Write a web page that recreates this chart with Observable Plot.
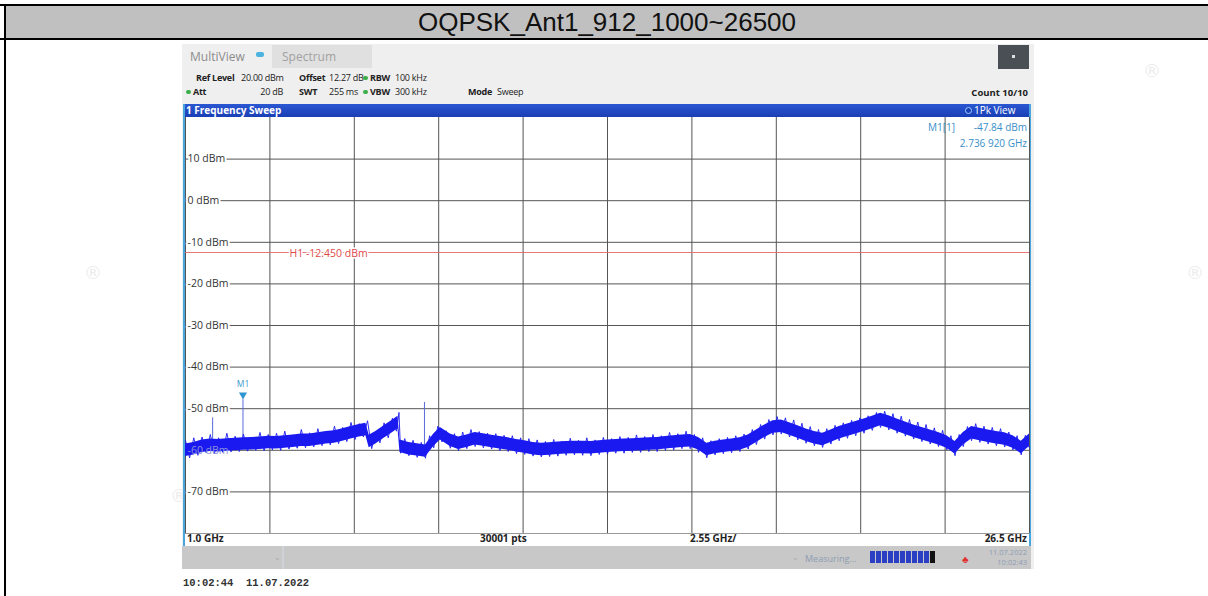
<!DOCTYPE html>
<html>
<head>
<meta charset="utf-8">
<script src="https://cdn.jsdelivr.net/npm/d3@7"></script>
<script src="https://cdn.jsdelivr.net/npm/@observablehq/plot@0.6"></script>
<style>
  html, body { margin: 0; padding: 0; background: #fff; }
  #page { position: relative; width: 1208px; height: 596px; overflow: hidden; background: #fff; font-family: "Open Sans", "Noto Sans", sans-serif; }
  .abs { position: absolute; white-space: nowrap; }
  .b { font-weight: 700; }
  .info { font-size: 9px; color: #222; line-height: 12px; letter-spacing: -0.25px; }
  .dotg { position: absolute; width: 5px; height: 4px; border-radius: 3px; background: #3cae4a; }
  .mk { color: #3a8fc9; font-size: 10px; }
  .wm { color: #ececec; font-family: "DejaVu Sans", sans-serif; font-size: 18px; }
</style>
</head>
<body>
<div id="page">
  <!-- outer table frame -->
  <div class="abs" style="left:0;top:4px;width:1208px;height:2px;background:#000"></div>
  <div class="abs" style="left:6px;top:6px;width:1202px;height:32px;background:#c0c0c0"></div>
  <div class="abs" style="left:0;top:38px;width:1208px;height:2px;background:#000"></div>
  <div class="abs" style="left:4px;top:4px;width:2px;height:592px;background:#000"></div>
  <div class="abs" id="title" style="left:6px;top:6px;width:1202px;height:32px;line-height:33px;text-align:center;font-family:'Liberation Sans',Arial,sans-serif;font-size:26px;color:#111"></div>

  <!-- faint watermarks -->
  <div class="abs wm" style="left:1143px;top:60px">®</div>
  <div class="abs wm" style="left:84px;top:262px">®</div>
  <div class="abs wm" style="left:1186px;top:262px">®</div>
  <div class="abs wm" style="left:170px;top:485px">®</div>

  <!-- instrument screenshot -->
  <div class="abs" style="left:182px;top:44px;width:852px;height:525px;background:#efefef"></div>
  <div class="abs" style="left:190px;top:48px;font-size:12px;color:#8c8c8c">MultiView</div>
  <div class="abs" style="left:256px;top:52px;width:8px;height:5px;background:#4bb3e0;border-radius:2px"></div>
  <div class="abs" style="left:272px;top:45px;width:100px;height:23px;background:#e0e0e0"></div>
  <div class="abs" style="left:282px;top:48px;font-size:12px;color:#a0a0a0">Spectrum</div>
  <div class="abs" style="left:998px;top:45px;width:31px;height:24px;background:#4a4f55"></div>
  <div class="abs" style="left:1012px;top:55px;width:3px;height:3px;background:#ddd"></div>

  <div id="settings"></div>
  <div class="abs info b" id="count" style="right:180px;top:87px;font-size:9.5px;letter-spacing:0"></div>

  <!-- window frame -->
  <div class="abs" style="left:183px;top:104px;width:848px;height:442px;background:#4aa6de"></div>
  <div class="abs" style="left:185px;top:104px;width:844px;height:13px;background:linear-gradient(#2a57d2,#1a3fb5)"></div>
  <div class="abs b" style="left:186px;top:103px;font-size:10px;color:#fff;line-height:14px">1 Frequency Sweep</div>
  <div class="abs" style="left:965px;top:107px;width:5px;height:5px;border:1.5px solid #9fd0ff;background:#1a3fb5;border-radius:50%"></div>
  <div class="abs" style="left:974px;top:103px;font-size:10px;color:#fff;line-height:14px">1Pk View</div>
  <div class="abs" style="left:185px;top:533px;width:844px;height:12px;background:#fff;border-top:1px solid #999"></div>
  <div class="abs b" id="xl0" style="left:187px;top:531px;font-size:10px;color:#222;line-height:15px"></div>
  <div class="abs b" id="xl1" style="left:480px;top:531px;font-size:10px;color:#222;line-height:15px"></div>
  <div class="abs b" id="xl2" style="left:690px;top:531px;font-size:10px;color:#222;line-height:15px"></div>
  <div class="abs b" id="xl3" style="right:181px;top:531px;font-size:10px;color:#222;line-height:15px"></div>

  <!-- status bar -->
  <div class="abs" style="left:182px;top:546px;width:849px;height:23px;background:#c8c8c8"></div>
  <div class="abs" style="left:282px;top:546px;width:2px;height:23px;background:#cfd3d8"></div>
  <div class="abs" style="left:274px;top:551px;font-size:8px;color:#a8a8a8">⌄</div>
  <div class="abs" style="left:792px;top:551px;font-size:8px;color:#a8a8a8">⌄</div>
  <div class="abs" style="left:805px;top:552px;font-size:9px;color:#8d9db3">Measuring...</div>
  <div class="abs" style="left:870px;top:551px;width:60px;height:12px;background:repeating-linear-gradient(90deg,#2b3fc4 0 5px,#c8c8c8 5px 6px)"></div>
  <div class="abs" style="left:930px;top:551px;width:5px;height:12px;background:#111"></div>
  <div class="abs" style="left:962px;top:552px;font-size:10px;color:#e03030">♣</div>
  <div class="abs" style="right:181px;top:547px;font-size:7.5px;color:#8d9db3;text-align:right;line-height:10px">11.07.2022<br>10:02:43</div>

  <div class="abs" id="stamp" style="left:183px;top:577px;font-family:'Liberation Mono','DejaVu Sans Mono',monospace;font-size:10.5px;color:#333;font-weight:700"></div>

  <div class="abs" id="chart" style="left:185px;top:117px"></div>

  <!-- marker readout -->
  <div class="abs mk" style="left:928px;top:120px">M1[1]</div>
  <div class="abs mk" id="mkLevel" style="right:181px;top:120px"></div>
  <div class="abs mk" id="mkFreq" style="right:181px;top:136px"></div>
</div>
<script>
// ---------------- data ----------------
const titleText = "OQPSK_Ant1_912_1000~26500";
const stampText = "10:02:44\u00a0\u00a011.07.2022";
const settingLabels1 = ["Ref Level", "Offset", "RBW"];
const settingValues1 = ["20.00 dBm", "12.27 dB", "100 kHz"];
const settingLabels2 = ["Att", "SWT", "VBW", "Mode"];
const settingValues2 = ["20 dB", "255 ms", "300 kHz", "Sweep"];
const countText = "Count 10/10";
const xLabels = ["1.0 GHz", "30001 pts", "2.55 GHz/", "26.5 GHz"];

const xTicks = [1.0, 3.55, 6.1, 8.65, 11.2, 13.75, 16.3, 18.85, 21.4, 23.95, 26.5];
const yTicks = [10, 0, -10, -20, -30, -40, -50, -60, -70];
const h1Level = -12.45;
const markerFreq = 2.73692;
const markerLevel = -47.84;

// solid core of the noise band (GHz, dBm min, dBm max)
const freq = [1.00,1.25,1.50,1.75,2.00,2.25,2.50,2.75,3.00,3.25,3.50,3.75,4.00,4.25,4.50,4.75,5.00,5.25,5.50,5.75,6.00,6.25,6.45,6.55,6.75,7.00,7.25,7.42,7.48,7.75,8.00,8.25,8.50,8.70,9.00,9.25,9.50,9.75,10.00,10.25,10.50,10.75,11.00,11.25,11.50,11.75,12.00,12.25,12.50,12.75,13.00,13.25,13.50,13.75,14.00,14.25,14.50,14.75,15.00,15.25,15.50,15.75,16.00,16.25,16.50,16.75,17.00,17.25,17.50,17.75,18.00,18.25,18.50,18.75,19.00,19.25,19.50,19.75,20.00,20.25,20.50,20.75,21.00,21.25,21.50,21.75,22.00,22.25,22.50,22.75,23.00,23.25,23.50,23.75,24.00,24.25,24.50,24.75,25.00,25.25,25.50,25.75,26.00,26.25,26.50];
const lower = [-61.5,-61.1,-60.5,-60.3,-60.4,-60.2,-60.1,-60.0,-59.9,-59.8,-59.6,-59.7,-59.5,-59.3,-59.1,-59.1,-58.8,-58.5,-58.3,-57.8,-57.3,-56.8,-56.5,-59.4,-58.5,-57.1,-55.8,-54.8,-60.5,-61.1,-61.4,-61.7,-59.1,-57.5,-59.1,-59.8,-59.3,-58.7,-59.0,-59.4,-59.7,-60.0,-60.4,-60.7,-61.1,-61.3,-61.2,-61.0,-60.9,-60.8,-60.8,-60.9,-60.7,-60.5,-60.4,-60.3,-60.2,-60.1,-60.0,-59.9,-59.7,-59.5,-59.3,-59.2,-59.9,-61.3,-60.8,-60.5,-60.3,-60.0,-59.3,-58.1,-56.9,-55.9,-55.7,-56.4,-57.1,-57.9,-58.5,-58.9,-58.1,-57.3,-56.7,-56.1,-55.5,-54.8,-54.1,-54.7,-55.5,-56.2,-56.9,-57.5,-58.1,-58.7,-59.5,-60.9,-58.7,-57.3,-57.7,-58.1,-58.5,-58.8,-59.5,-60.8,-59.1];
const upper = [-58.5,-58.1,-57.5,-57.3,-57.4,-57.2,-57.1,-57.0,-56.9,-56.8,-56.6,-56.7,-56.5,-56.3,-56.1,-56.1,-55.8,-55.5,-55.3,-54.8,-54.3,-53.8,-53.5,-56.4,-55.5,-54.1,-52.8,-51.8,-57.5,-58.1,-58.4,-58.7,-56.1,-54.5,-56.1,-56.8,-56.3,-55.7,-56.0,-56.4,-56.7,-57.0,-57.4,-57.7,-58.1,-58.3,-58.2,-58.0,-57.9,-57.8,-57.8,-57.9,-57.7,-57.5,-57.4,-57.3,-57.2,-57.1,-57.0,-56.9,-56.7,-56.5,-56.3,-56.2,-56.9,-58.3,-57.8,-57.5,-57.3,-57.0,-56.3,-55.1,-53.9,-52.9,-52.7,-53.4,-54.1,-54.9,-55.5,-55.9,-55.1,-54.3,-53.7,-53.1,-52.5,-51.8,-51.1,-51.7,-52.5,-53.2,-53.9,-54.5,-55.1,-55.7,-56.5,-57.9,-55.7,-54.3,-54.7,-55.1,-55.5,-55.8,-56.5,-57.8,-56.1];

// peak / trough samples of the noise (GHz, dBm)
const noiseFreq = [1.000,1.125,1.250,1.375,1.500,1.625,1.750,1.875,2.000,2.125,2.250,2.375,2.500,2.625,2.750,2.875,3.000,3.125,3.250,3.375,3.500,3.625,3.750,3.875,4.000,4.125,4.250,4.375,4.500,4.625,4.750,4.875,5.000,5.125,5.250,5.375,5.500,5.625,5.750,5.875,6.000,6.125,6.250,6.375,6.500,6.625,6.750,6.875,7.000,7.125,7.250,7.375,7.450,7.500,7.625,7.750,7.875,8.000,8.125,8.250,8.375,8.500,8.625,8.750,8.875,9.000,9.125,9.250,9.375,9.500,9.625,9.750,9.875,10.000,10.125,10.250,10.375,10.500,10.625,10.750,10.875,11.000,11.125,11.250,11.375,11.500,11.625,11.750,11.875,12.000,12.125,12.250,12.375,12.500,12.625,12.750,12.875,13.000,13.125,13.250,13.375,13.500,13.625,13.750,13.875,14.000,14.125,14.250,14.375,14.500,14.625,14.750,14.875,15.000,15.125,15.250,15.375,15.500,15.625,15.750,15.875,16.000,16.125,16.250,16.375,16.500,16.625,16.750,16.875,17.000,17.125,17.250,17.375,17.500,17.625,17.750,17.875,18.000,18.125,18.250,18.375,18.500,18.625,18.750,18.875,19.000,19.125,19.250,19.375,19.500,19.625,19.750,19.875,20.000,20.125,20.250,20.375,20.500,20.625,20.750,20.875,21.000,21.125,21.250,21.375,21.500,21.625,21.750,21.875,22.000,22.125,22.250,22.375,22.500,22.625,22.750,22.875,23.000,23.125,23.250,23.375,23.500,23.625,23.750,23.875,24.000,24.125,24.250,24.375,24.500,24.625,24.750,24.875,25.000,25.125,25.250,25.375,25.500,25.625,25.750,25.875,26.000,26.125,26.250,26.375,26.500];
const noiseLevel = [-57.6,-61.8,-57.0,-61.2,-56.8,-60.6,-56.2,-60.8,-57.0,-60.5,-55.9,-60.4,-56.6,-60.3,-56.1,-60.2,-56.8,-60.0,-55.7,-60.1,-56.2,-59.9,-55.9,-60.0,-55.4,-59.7,-56.3,-59.5,-55.0,-59.4,-55.8,-59.2,-54.8,-58.9,-55.4,-58.7,-54.2,-58.4,-54.5,-57.9,-53.3,-57.4,-53.6,-56.8,-52.9,-59.6,-55.6,-58.2,-53.4,-57.0,-52.3,-55.4,-50.9,-60.7,-57.2,-61.3,-57.6,-61.7,-58.1,-61.9,-56.5,-59.4,-54.2,-58.0,-55.3,-59.5,-56.0,-60.1,-55.6,-59.6,-55.0,-59.1,-55.5,-59.4,-55.9,-59.7,-56.0,-60.1,-56.4,-60.3,-56.5,-60.8,-57.0,-61.0,-57.2,-61.4,-57.5,-61.6,-57.9,-61.5,-57.4,-61.4,-57.8,-61.2,-57.1,-61.1,-57.6,-61.2,-57.0,-61.3,-57.5,-61.0,-56.9,-60.9,-57.2,-60.7,-56.7,-60.7,-56.9,-60.5,-56.3,-60.5,-56.7,-60.3,-56.2,-60.3,-56.5,-60.0,-55.7,-59.9,-56.0,-59.6,-55.4,-59.6,-56.2,-60.5,-57.0,-61.8,-57.7,-61.1,-57.2,-60.8,-56.9,-60.6,-56.5,-60.3,-56.1,-59.7,-55.0,-58.6,-53.8,-57.3,-52.6,-56.3,-51.9,-56.1,-52.2,-56.8,-52.7,-57.5,-53.5,-58.3,-54.3,-58.9,-55.0,-59.3,-54.8,-58.5,-54.0,-57.7,-53.4,-57.1,-52.8,-56.5,-52.2,-55.9,-51.7,-55.2,-50.9,-54.5,-50.6,-55.1,-51.2,-55.9,-51.8,-56.6,-52.6,-57.3,-53.2,-57.9,-53.8,-58.5,-54.6,-59.1,-55.2,-59.9,-56.5,-61.3,-56.2,-59.1,-54.3,-57.7,-53.6,-58.1,-54.2,-58.5,-54.5,-58.9,-54.8,-59.2,-55.6,-59.9,-56.5,-61.1,-56.4,-59.5];

// narrow spurs (GHz, base dBm, peak dBm)
const spurFreq = [1.82, 2.737, 8.22];
const spurBase = [-58.6, -58.4, -59.8];
const spurPeak = [-52.2, -47.84, -48.5];

// ---------------- page text ----------------
document.getElementById("title").textContent = titleText;
document.getElementById("stamp").textContent = stampText;
document.getElementById("count").textContent = countText;
xLabels.forEach((t, i) => document.getElementById("xl" + i).textContent = t);
document.getElementById("mkLevel").textContent = markerLevel.toFixed(2) + " dBm";
document.getElementById("mkFreq").textContent = "2.736 920 GHz";

// settings header layout
const settings = document.getElementById("settings");
function put(text, x, top, bold, alignRight) {
  const el = document.createElement("div");
  el.className = "abs info" + (bold ? " b" : "");
  el.style.top = top + "px";
  if (alignRight) { el.style.right = (1208 - x) + "px"; } else { el.style.left = x + "px"; }
  el.textContent = text;
  settings.appendChild(el);
}
function dot(left, top) {
  const el = document.createElement("div");
  el.className = "dotg"; el.style.left = left + "px"; el.style.top = top + "px";
  settings.appendChild(el);
}
const row1Label = [196, 299, 370], row1Val = [241, 329, 395];
settingLabels1.forEach((t, i) => put(t, row1Label[i], 72, true));
settingValues1.forEach((t, i) => put(t, row1Val[i], 72, false));
dot(363, 76);
const row2Label = [193, 299, 370, 468], row2Val = [283, 358, 395, 497];
settingLabels2.forEach((t, i) => put(t, row2Label[i], 86, true));
settingValues2.forEach((t, i) => put(t, row2Val[i], 86, false, i < 2));
dot(186, 90); dot(363, 90);

// ---------------- chart ----------------
const core = freq.map((f, i) => ({f, lo: lower[i], hi: upper[i]}));
const noise = noiseFreq.map((f, i) => ({f, v: noiseLevel[i]}));
const spurs = spurFreq.map((f, i) => ({f, base: spurBase[i], peak: spurPeak[i]}));
const marker = [{f: markerFreq, level: markerLevel}];
const traceBlue = "#1a1af0";

const chart = Plot.plot({
  width: 844,
  height: 416,
  margin: 0,
  x: {domain: [1, 26.5], axis: null},
  y: {domain: [-80, 20], axis: null},
  style: {background: "#fff", fontFamily: "'Open Sans', 'Noto Sans', sans-serif", overflow: "visible"},
  marks: [
    Plot.ruleX(xTicks, {stroke: "#555", strokeWidth: 1}),
    Plot.ruleY(yTicks, {stroke: "#555", strokeWidth: 1}),
    Plot.ruleY([h1Level], {stroke: "#e26a6a", strokeWidth: 0.9}),
    Plot.text(yTicks, {y: d => d, frameAnchor: "left", dx: 2, textAnchor: "start", text: d => `${d} dBm`,
      fill: "#fff", stroke: "#fff", strokeWidth: 4, fontSize: 10.5}),
    Plot.text([h1Level], {y: d => d, frameAnchor: "left", dx: 104, dy: 1, textAnchor: "start",
      text: d => `H1 ${d.toFixed(3)} dBm`, fill: "#e04848", stroke: "#fff", strokeWidth: 3, paintOrder: "stroke", fontSize: 10.5}),
    Plot.ruleX(spurs, {x: "f", y1: "base", y2: "peak", stroke: "#5a6ad8", strokeWidth: 1}),
    Plot.areaY(core, {x: "f", y1: "lo", y2: "hi", fill: traceBlue}),
    Plot.line(noise, {x: "f", y: "v", stroke: traceBlue, strokeWidth: 0.9}),
    Plot.text(yTicks, {y: d => d, frameAnchor: "left", dx: 2, textAnchor: "start", text: d => `${d} dBm`,
      fill: d => d === -60 ? "#8c92d8" : "#333", fontSize: 10.5}),
    Plot.dot(marker, {x: "f", y: "level", symbol: "triangle", rotate: 180, r: 3, fill: "#2f95d0", dy: -5}),
    Plot.text(marker, {x: "f", y: "level", text: () => "M1", dy: -15, fill: "#3a9ad0", fontSize: 8.5})
  ]
});
document.getElementById("chart").appendChild(chart);
</script>
</body>
</html>
